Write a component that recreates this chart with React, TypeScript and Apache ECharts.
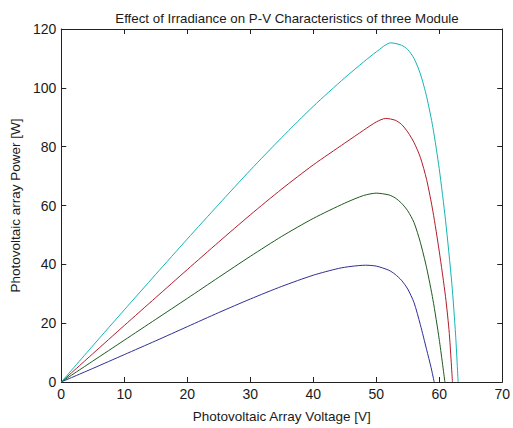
import React, { useEffect, useRef } from "react";
import * as echarts from "echarts";

const title = "Effect of Irradiance on P-V Characteristics of three Module";
const xLabel = "Photovoltaic Array Voltage [V]";
const yLabel = "Photovoltaic array Power [W]";

const blueV = [0, 5, 10, 15, 20, 25, 30, 35, 40, 44, 46, 48.3, 50, 52, 53, 54, 55, 56, 57, 58, 58.7, 59.2];
const blueP = [0, 4.6, 9.3, 14, 18.8, 23.6, 28.2, 32.5, 36.3, 38.6, 39.3, 39.7, 39.4, 38, 36.6, 34.6, 31.6, 27, 19.5, 11, 5, 0];

const greenV = [0, 5, 10, 15, 20, 25, 30, 35, 40, 45, 48, 50, 52, 53, 54, 55, 56, 57, 58, 59, 60, 60.9];
const greenP = [0, 7.1, 14.2, 21.3, 28.4, 35.6, 42.7, 49.5, 55.6, 60.8, 63.4, 64.2, 63.6, 62.6, 60.8, 58.2, 54.2, 47.5, 38.8, 28, 14.5, 0];

const redV = [0, 5, 10, 15, 20, 25, 30, 35, 40, 45, 48, 50, 51.5, 53, 54, 55, 56, 57, 58, 59, 60, 61, 61.6, 62.1];
const redP = [0, 9.6, 19.2, 28.7, 38.2, 47.6, 56.8, 65.6, 73.8, 81.2, 85.6, 88.4, 89.6, 89, 87.6, 85, 81.4, 76.4, 68.8, 58, 44.5, 29, 16.5, 0];

const cyanV = [0, 5, 10, 15, 20, 25, 30, 35, 40, 45, 48, 50, 52.3, 54, 55, 56, 57, 58, 59, 60, 61, 62, 62.6, 63];
const cyanP = [0, 12.3, 24.5, 36.6, 48.6, 60.4, 72, 83.1, 93.7, 103.4, 108.8, 112.2, 115.3, 114.5, 113, 110, 104.8, 97, 86.5, 72.5, 55, 33.5, 16, 0];

const xTicks = [0, 10, 20, 30, 40, 50, 60, 70];
const yTicks = [0, 20, 40, 60, 80, 100, 120];

const seriesNames = ["Irradiance 1", "Irradiance 2", "Irradiance 3", "Irradiance 4"];
const seriesV = [blueV, greenV, redV, cyanV];
const seriesP = [blueP, greenP, redP, cyanP];
const colors = ["#2e2e96", "#1e5a1e", "#b01c2c", "#12b4b4"];

const FONT = "'Liberation Sans', Arial, sans-serif";

export default function App() {
  const ref = useRef<HTMLDivElement>(null);
  useEffect(() => {
    if (!ref.current) return;
    const chart = echarts.init(ref.current, null, { renderer: "svg" });
    const axisLine = { show: true, onZero: false, lineStyle: { color: "#222", width: 1 } };
    const tick = { show: true, inside: true, length: 5, lineStyle: { color: "#222", width: 1 } };
    chart.setOption({
      animation: false,
      backgroundColor: "#ffffff",
      title: {
        text: title,
        left: 282,
        textAlign: "center",
        top: 7,
        textStyle: { fontFamily: FONT, fontSize: 13.3, fontWeight: "normal", color: "#1a1a1a" },
      },
      grid: { left: 61, top: 29, right: 9, bottom: 44 },
      xAxis: [
        {
          type: "value",
          min: xTicks[0],
          max: xTicks[xTicks.length - 1],
          interval: 10,
          position: "bottom",
          name: xLabel,
          nameLocation: "middle",
          nameGap: 27,
          nameTextStyle: { fontFamily: FONT, fontSize: 13.5, color: "#1a1a1a" },
          axisLine,
          axisTick: tick,
          splitLine: { show: false },
          axisLabel: { fontFamily: FONT, fontSize: 14, color: "#1a1a1a", margin: 5 },
        },
        {
          type: "value",
          min: xTicks[0],
          max: xTicks[xTicks.length - 1],
          interval: 10,
          position: "top",
          axisLine,
          axisTick: tick,
          splitLine: { show: false },
          axisLabel: { show: false },
        },
      ],
      yAxis: [
        {
          type: "value",
          min: yTicks[0],
          max: yTicks[yTicks.length - 1],
          interval: 20,
          position: "left",
          name: yLabel,
          nameLocation: "middle",
          nameGap: 38,
          nameTextStyle: { fontFamily: FONT, fontSize: 13.5, color: "#1a1a1a" },
          axisLine,
          axisTick: tick,
          splitLine: { show: false },
          axisLabel: { fontFamily: FONT, fontSize: 14, color: "#1a1a1a", margin: 5 },
        },
        {
          type: "value",
          min: yTicks[0],
          max: yTicks[yTicks.length - 1],
          interval: 20,
          position: "right",
          axisLine,
          axisTick: tick,
          splitLine: { show: false },
          axisLabel: { show: false },
        },
      ],
      series: seriesNames.map((name, i) => ({
        name,
        type: "line",
        xAxisIndex: 0,
        yAxisIndex: 0,
        showSymbol: false,
        smooth: 0.25,
        lineStyle: { color: colors[i], width: 1 },
        itemStyle: { color: colors[i] },
        data: seriesV[i].map((v, j) => [v, seriesP[i][j]]),
      })),
    });
    return () => chart.dispose();
  }, []);
  return <div ref={ref} style={{ width: 513, height: 428, position: "absolute", left: 0, top: 0 }} />;
}
